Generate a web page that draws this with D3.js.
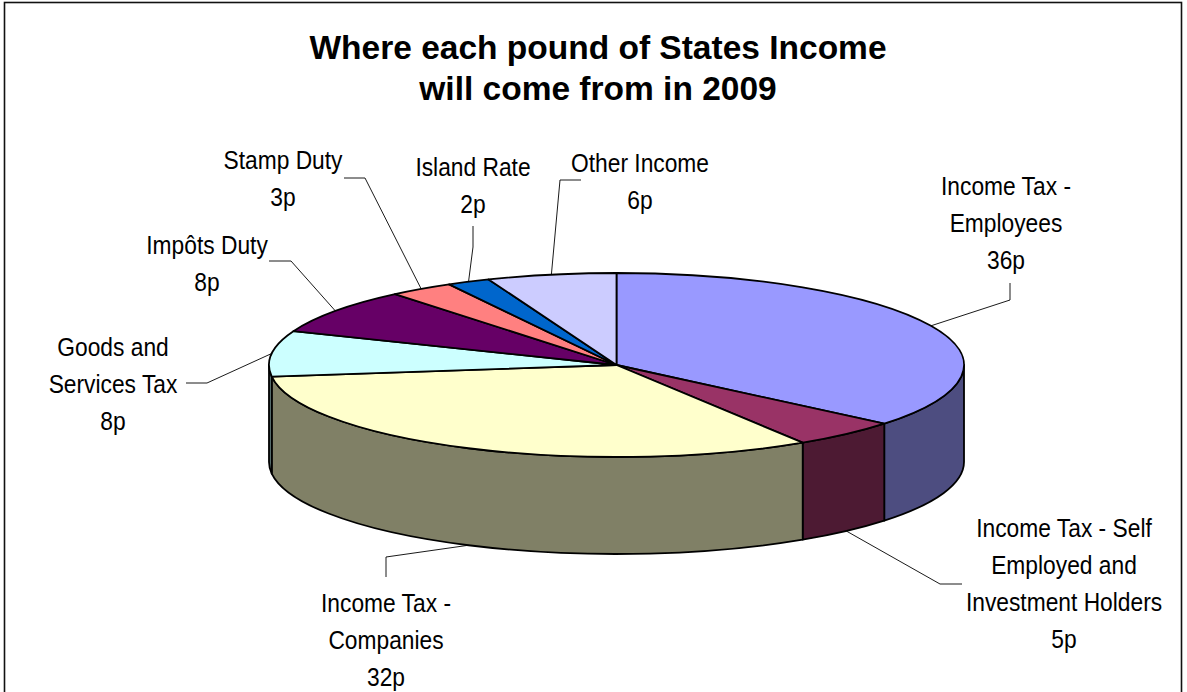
<!DOCTYPE html>
<html>
<head>
<meta charset="utf-8">
<title>Where each pound of States Income will come from in 2009</title>
<script src="https://cdn.jsdelivr.net/npm/d3@7/dist/d3.min.js"></script>
<style>
  html, body { margin: 0; padding: 0; background: #fff; overflow: hidden; }
  svg { display: block; }
  text { font-family: "Liberation Sans", Arial, sans-serif; fill: #000; }
</style>
</head>
<body>
<svg id="chart" width="1187" height="692"></svg>
<script>
// Income sources in pence per pound, clockwise from twelve o'clock
const categories = [
  "Income Tax - Employees",
  "Income Tax - Self Employed and Investment Holders",
  "Income Tax - Companies",
  "Goods and Services Tax",
  "Impôts Duty",
  "Stamp Duty",
  "Island Rate",
  "Other Income"
];
const pence = [36, 5, 32, 8, 8, 3, 2, 6];
const topColours = ["#9999FF", "#993366", "#FFFFCC", "#CCFFFF", "#660066", "#FF8080", "#0066CC", "#CCCCFF"];
const titleLines = ["Where each pound of States Income", "will come from in 2009"];
const labelLines = [
  ["Income Tax -", "Employees", "36p"],
  ["Income Tax - Self", "Employed and", "Investment Holders", "5p"],
  ["Income Tax -", "Companies", "32p"],
  ["Goods and", "Services Tax", "8p"],
  ["Impôts Duty", "8p"],
  ["Stamp Duty", "3p"],
  ["Island Rate", "2p"],
  ["Other Income", "6p"]
];

// Geometry of the tilted disc
const W = 1187, H = 692;
const cx = 616.5, cy = 365, rx = 347.5, ry = 92, depth = 97;

// Label block placement: centre x, first baseline, and the leader's outer bends
const labelLayout = [
  { x: 1006, y: 195, leader: [[1010, 283], [1010, 300]] },
  { x: 1064, y: 537, leader: [[962, 584], [940, 584]] },
  { x: 386,  y: 612, leader: [[386, 577], [386, 557]] },
  { x: 113,  y: 356, leader: [[186, 383], [207, 383]] },
  { x: 207,  y: 254, leader: [[269, 261], [291, 261]] },
  { x: 283,  y: 169, leader: [[344, 178], [365, 178]] },
  { x: 473,  y: 176, leader: [[473, 226], [473, 247]] },
  { x: 640,  y: 172, leader: [[581, 180], [560, 180]] }
];

const svg = d3.select("#chart");

// Chart frame, open at the bottom because it runs past the page edge
svg.append("rect")
  .attr("x", 4.5).attr("y", 2.5)
  .attr("width", 1177).attr("height", H + 20)
  .attr("fill", "#fff").attr("stroke", "#111").attr("stroke-width", 1.6);

// Title
const title = svg.append("g").attr("text-anchor", "middle")
  .attr("font-weight", "bold").attr("font-size", 33.5);
title.selectAll("text").data(titleLines).join("text")
  .attr("x", 598)
  .attr("y", (d, i) => 59 + i * 40.5)
  .text(d => d);

const slices = d3.pie().sort(null).value(d => d)(pence);
const pointAt = (a, drop = 0) => [cx + rx * Math.sin(a), cy - ry * Math.cos(a) + drop];

// Front wall: only the part of each slice between 3 and 9 o'clock shows
const wallFrom = Math.PI / 2, wallTo = 3 * Math.PI / 2;
const walls = svg.append("g");
slices.forEach((s, i) => {
  const a0 = Math.max(s.startAngle, wallFrom), a1 = Math.min(s.endAngle, wallTo);
  if (a1 <= a0) return;
  const [x0, y0] = pointAt(a0), [x1, y1] = pointAt(a1);
  const large = a1 - a0 > Math.PI ? 1 : 0;
  const d = `M${x0},${y0}L${x0},${y0 + depth}` +
            `A${rx},${ry} 0 ${large} 1 ${x1},${y1 + depth}` +
            `L${x1},${y1}A${rx},${ry} 0 ${large} 0 ${x0},${y0}Z`;
  const c = d3.rgb(topColours[i]);
  walls.append("path")
    .attr("d", d)
    .attr("fill", d3.rgb(c.r / 2, c.g / 2, c.b / 2))
    .attr("stroke", "#000").attr("stroke-width", 1.8).attr("stroke-linejoin", "round");
});

// Top face: a circular pie squashed vertically into the ellipse
const arc = d3.arc().innerRadius(0).outerRadius(rx);
svg.append("g")
  .attr("transform", `translate(${cx},${cy}) scale(1,${ry / rx})`)
  .selectAll("path").data(slices).join("path")
  .attr("d", arc)
  .attr("fill", (d, i) => topColours[i])
  .attr("stroke", "#000").attr("stroke-width", 1.8)
  .attr("stroke-linejoin", "round")
  .attr("vector-effect", "non-scaling-stroke");

// Leader lines run from each label to the rim at the slice's mid-angle
const line = d3.line();
svg.append("g").selectAll("path").data(slices).join("path")
  .attr("d", (s, i) => {
    const mid = (s.startAngle + s.endAngle) / 2;
    const onFront = mid > wallFrom && mid < wallTo;
    return line([...labelLayout[i].leader, pointAt(mid, onFront ? depth : 0)]);
  })
  .attr("fill", "none").attr("stroke", "#000").attr("stroke-width", 0.9);

// Data labels, narrowed in the horizontal direction
const labels = svg.append("g").attr("text-anchor", "middle").attr("font-size", 26.5);
labelLines.forEach((lines, i) => {
  const { x, y } = labelLayout[i];
  labels.append("g")
    .attr("transform", `translate(${x},${y}) scale(0.86,1)`)
    .selectAll("text").data(lines).join("text")
    .attr("y", (d, j) => j * 37)
    .text(d => d);
});
</script>
</body>
</html>
